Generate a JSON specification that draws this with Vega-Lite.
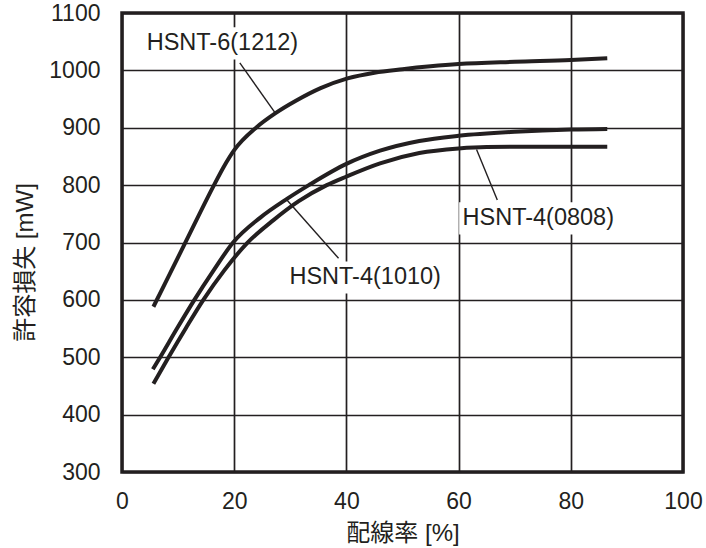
{
  "$schema": "https://vega.github.io/schema/vega-lite/v6.json",
  "autosize": {"type": "none"},
  "padding": {"left": 122, "top": 13, "right": 23, "bottom": 76},
  "width": 561,
  "height": 459,
  "background": "white",
  "config": {
    "font": "Liberation Sans, Noto Sans CJK JP",
    "view": {"stroke": "#231f20", "strokeWidth": 3.5},
    "axis": {
      "domain": false,
      "ticks": false,
      "tickSize": 0,
      "grid": true,
      "gridColor": "#231f20",
      "gridWidth": 1.7,
      "gridOpacity": 1,
      "labelColor": "#231f20",
      "labelFontSize": 23,
      "labelFont": "Liberation Sans",
      "titleColor": "#231f20",
      "titleFontSize": 24,
      "titleFontWeight": "normal",
      "titleFont": "Liberation Sans, Noto Sans CJK JP"
    }
  },
  "encoding": {
    "x": {
      "field": "x",
      "type": "quantitative",
      "scale": {"domain": [0, 100], "nice": false},
      "axis": {
        "title": "配線率 [%]",
        "values": [0, 20, 40, 60, 80, 100],
        "format": "d",
        "labelFlush": false,
        "labelPadding": 18,
        "titleBaseline": "alphabetic",
        "titleY": 68
      }
    },
    "y": {
      "field": "y",
      "type": "quantitative",
      "scale": {"domain": [300, 1100], "nice": false},
      "axis": {
        "title": "許容損失 [mW]",
        "values": [300, 400, 500, 600, 700, 800, 900, 1000, 1100],
        "format": "d",
        "labelPadding": 22,
        "titleBaseline": "alphabetic",
        "titleX": -90,
        "titleY": 249,
        "titleAngle": -90
      }
    }
  },
  "layer": [
    {
      "data": {
        "values": [
          {"series": "HSNT-6(1212)", "x": 5.6, "y": 588},
          {"series": "HSNT-6(1212)", "x": 11, "y": 694},
          {"series": "HSNT-6(1212)", "x": 16.4, "y": 800},
          {"series": "HSNT-6(1212)", "x": 18.2, "y": 833},
          {"series": "HSNT-6(1212)", "x": 20, "y": 861},
          {"series": "HSNT-6(1212)", "x": 24, "y": 901},
          {"series": "HSNT-6(1212)", "x": 27.3, "y": 925},
          {"series": "HSNT-6(1212)", "x": 31, "y": 947},
          {"series": "HSNT-6(1212)", "x": 35.4, "y": 969},
          {"series": "HSNT-6(1212)", "x": 40.2, "y": 986},
          {"series": "HSNT-6(1212)", "x": 45, "y": 996},
          {"series": "HSNT-6(1212)", "x": 50, "y": 1002},
          {"series": "HSNT-6(1212)", "x": 55, "y": 1007},
          {"series": "HSNT-6(1212)", "x": 60, "y": 1011},
          {"series": "HSNT-6(1212)", "x": 70, "y": 1015},
          {"series": "HSNT-6(1212)", "x": 80, "y": 1018},
          {"series": "HSNT-6(1212)", "x": 86.5, "y": 1021},
          {"series": "HSNT-4(1010)", "x": 5.5, "y": 479},
          {"series": "HSNT-4(1010)", "x": 6.8, "y": 500},
          {"series": "HSNT-4(1010)", "x": 9.8, "y": 550},
          {"series": "HSNT-4(1010)", "x": 12.9, "y": 600},
          {"series": "HSNT-4(1010)", "x": 16.3, "y": 651},
          {"series": "HSNT-4(1010)", "x": 19.8, "y": 700},
          {"series": "HSNT-4(1010)", "x": 24.6, "y": 743},
          {"series": "HSNT-4(1010)", "x": 29.4, "y": 776},
          {"series": "HSNT-4(1010)", "x": 33.3, "y": 800},
          {"series": "HSNT-4(1010)", "x": 40, "y": 837},
          {"series": "HSNT-4(1010)", "x": 46, "y": 860},
          {"series": "HSNT-4(1010)", "x": 53, "y": 877},
          {"series": "HSNT-4(1010)", "x": 60, "y": 886},
          {"series": "HSNT-4(1010)", "x": 70, "y": 893},
          {"series": "HSNT-4(1010)", "x": 80, "y": 897},
          {"series": "HSNT-4(1010)", "x": 86.5, "y": 898},
          {"series": "HSNT-4(0808)", "x": 5.6, "y": 454},
          {"series": "HSNT-4(0808)", "x": 8.3, "y": 500},
          {"series": "HSNT-4(0808)", "x": 11.4, "y": 551},
          {"series": "HSNT-4(0808)", "x": 14.5, "y": 600},
          {"series": "HSNT-4(0808)", "x": 18.2, "y": 651},
          {"series": "HSNT-4(0808)", "x": 22.3, "y": 699},
          {"series": "HSNT-4(0808)", "x": 27, "y": 739},
          {"series": "HSNT-4(0808)", "x": 31.5, "y": 772},
          {"series": "HSNT-4(0808)", "x": 36.5, "y": 800},
          {"series": "HSNT-4(0808)", "x": 40, "y": 815},
          {"series": "HSNT-4(0808)", "x": 46, "y": 838},
          {"series": "HSNT-4(0808)", "x": 53, "y": 856},
          {"series": "HSNT-4(0808)", "x": 60, "y": 864},
          {"series": "HSNT-4(0808)", "x": 65, "y": 866.5},
          {"series": "HSNT-4(0808)", "x": 75, "y": 867},
          {"series": "HSNT-4(0808)", "x": 86.5, "y": 867}
        ]
      },
      "mark": {"type": "line", "color": "#231f20", "strokeWidth": 4, "interpolate": "monotone"},
      "encoding": {"detail": {"field": "series"}}
    },
    {
      "data": {
        "values": [
          {"label": "HSNT-6(1212)", "x": 3.8, "x2": 32.0, "y": 1019, "y2": 1075},
          {"label": "HSNT-4(1010)", "x": 29.2, "x2": 57.5, "y": 611, "y2": 667},
          {"label": "HSNT-4(0808)", "x": 60.1, "x2": 88.3, "y": 714, "y2": 770}
        ]
      },
      "mark": {"type": "rect", "color": "white"},
      "encoding": {"x2": {"field": "x2"}, "y2": {"field": "y2"}}
    },
    {
      "data": {
        "values": [
          {"label": "HSNT-6(1212)", "x": 21.0, "y": 1013, "x2": 27.3, "y2": 926},
          {"label": "HSNT-4(1010)", "x": 29.4, "y": 774, "x2": 38.6, "y2": 672.5},
          {"label": "HSNT-4(0808)", "x": 63.2, "y": 862, "x2": 66.9, "y2": 774}
        ]
      },
      "mark": {"type": "rule", "color": "#231f20", "strokeWidth": 1.4},
      "encoding": {"x2": {"field": "x2"}, "y2": {"field": "y2"}}
    },
    {
      "data": {
        "values": [
          {"label": "HSNT-6(1212)", "x": 17.9, "y": 1047},
          {"label": "HSNT-4(1010)", "x": 43.35, "y": 639},
          {"label": "HSNT-4(0808)", "x": 74.2, "y": 742}
        ]
      },
      "mark": {"type": "text", "color": "#231f20", "fontSize": 23.5, "font": "Liberation Sans", "align": "center", "baseline": "middle"},
      "encoding": {"text": {"field": "label"}}
    }
  ]
}
